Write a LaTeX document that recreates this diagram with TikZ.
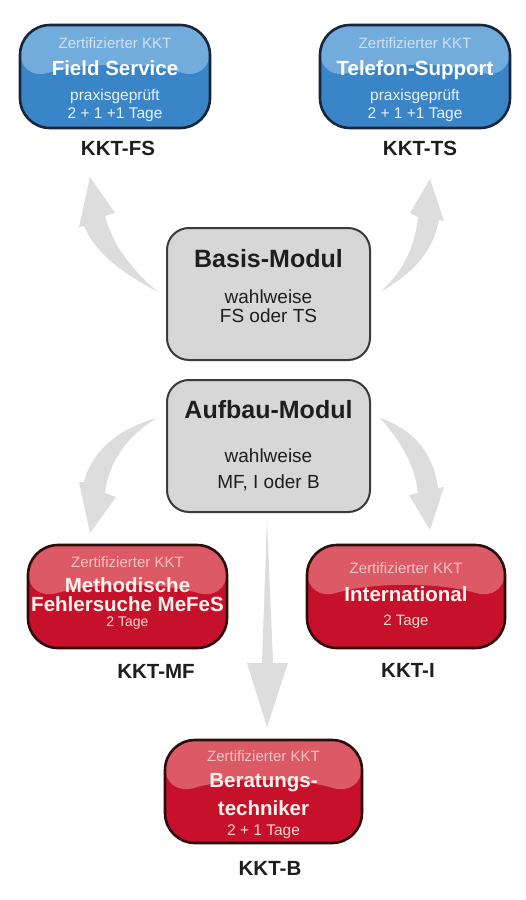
\documentclass[tikz,border=0pt]{standalone}
\usepackage{fontspec}
\setmainfont{Liberation Sans}
\usetikzlibrary{calc}
\definecolor{bluelo}{HTML}{3A84C8}
\definecolor{bluehi}{HTML}{72ACDD}
\definecolor{blueline}{HTML}{18263A}
\definecolor{redlo}{HTML}{C7112B}
\definecolor{redhi}{HTML}{DB5A66}
\definecolor{redline}{HTML}{2C0C0C}
\definecolor{greyfill}{HTML}{D7D7D7}
\definecolor{greyline}{HTML}{3A3A3A}
\definecolor{arrowgrey}{HTML}{DDDDDD}
\definecolor{labeldark}{HTML}{1E1E1E}
\definecolor{bluecert}{HTML}{D0E2F3}
\definecolor{bluesub}{HTML}{EAF2FA}
\definecolor{redcert}{HTML}{F6C4C4}
\definecolor{redtitle}{HTML}{FFF4EC}
\definecolor{redsub}{HTML}{F9D8D0}
\begin{document}
\begin{tikzpicture}[x=1pt,y=-1pt,
  gloss/.style={path picture={
    \coordinate (gnw) at (path picture bounding box.north west);
    \coordinate (gne) at (path picture bounding box.north east);
    \coordinate (gsw) at (path picture bounding box.south west);
    \coordinate (gse) at (path picture bounding box.south east);
    \coordinate (gl) at ($(gnw)!0.55!(gsw)$);
    \coordinate (gr) at ($(gne)!0.55!(gse)$);
    \coordinate (gl2) at ($(gnw)!0.36!(gsw)$);
    \coordinate (gr2) at ($(gne)!0.36!(gse)$);
    \fill[#1] (gnw) -- (gl) .. controls ($(gl2)!0.33!(gr2)$) and ($(gl2)!0.67!(gr2)$) .. (gr) -- (gne) -- cycle;}},
  certbox/.style={draw, line width=2.6pt, rounded corners=30pt, inner sep=0pt},
  bluebox/.style={certbox, draw=blueline, fill=bluelo, gloss=bluehi},
  redbox/.style={certbox, draw=redline, fill=redlo, gloss=redhi},
  modbox/.style={draw=greyline, fill=greyfill, line width=2pt, rounded corners=22pt, inner sep=0pt,
    minimum width=203pt, minimum height=132pt},
  txt/.style={anchor=base, inner sep=0pt},
  certf/.style={txt, font=\fontsize{15}{16}\selectfont},
  titlef/.style={txt, font=\fontsize{20.5}{21}\selectfont\bfseries},
  subf/.style={txt, font=\fontsize{15.5}{16}\selectfont},
  labelf/.style={txt, font=\fontsize{20.5}{21}\selectfont\bfseries, text=labeldark},
  modtitle/.style={txt, font=\fontsize{25}{26}\selectfont\bfseries, text=labeldark},
  modtext/.style={txt, font=\fontsize{19}{20}\selectfont, text=labeldark},
  arrowfill/.style={fill=arrowgrey}
]
\useasboundingbox (0,0) rectangle (526,900);
\fill[white] (0,0) rectangle (526,900);

% ---------- arrows ----------
\coordinate (a1t) at (158,292); \coordinate (a1h) at (90,177);
\fill[arrowfill] (a1t) .. controls (120,272) and (95,252) .. (84,226) -- (79,227) -- (a1h)
  -- (115,213) -- (105,216) .. controls (113,245) and (130,268) .. (a1t) -- cycle;
\coordinate (a2t) at (380,292); \coordinate (a2h) at (430,179);
\fill[arrowfill] (a2t) .. controls (405,270) and (415,245) .. (418,217) -- (410,213) -- (a2h)
  -- (444,221) -- (439,220) .. controls (432,255) and (410,275) .. (a2t) -- cycle;
\coordinate (a3t) at (157,418); \coordinate (a3h) at (90,533);
\fill[arrowfill] (a3t) .. controls (120,428) and (92,450) .. (84,482) -- (79,482) -- (a3h)
  -- (116,497) -- (105,493) .. controls (108,465) and (125,437) .. (a3t) -- cycle;
\coordinate (a4t) at (380,418); \coordinate (a4h) at (430,530);
\fill[arrowfill] (a4t) .. controls (410,428) and (433,450) .. (438,488) -- (444,487) -- (a4h)
  -- (409,495) -- (418,493) .. controls (415,465) and (400,440) .. (a4t) -- cycle;
\coordinate (a5t) at (267,520); \coordinate (a5h) at (267,727);
\fill[arrowfill] (a5t) -- (273,663) -- (288,663) -- (a5h) -- (247,663) -- (262,663) -- cycle;

% ---------- blue boxes ----------
\node[bluebox, minimum width=190pt, minimum height=103pt] (fs) at (115,76.5) {};
\node[certf, text=bluecert] (fs1) at (115,48) {Zertifizierter KKT};
\node[titlef, text=white] (fs2) at (115,75) {Field Service};
\node[subf, text=bluesub] (fs3) at (115,100) {praxisgeprüft};
\node[subf, text=bluesub] (fs4) at (115,118) {2 + 1 +1 Tage};
\node[labelf] (fsl) at (118,155) {KKT-FS};

\node[bluebox, minimum width=190pt, minimum height=103pt] (ts) at (415,76.5) {};
\node[certf, text=bluecert] (ts1) at (415,48) {Zertifizierter KKT};
\node[titlef, text=white] (ts2) at (415,75) {Telefon-Support};
\node[subf, text=bluesub] (ts3) at (415,100) {praxisgeprüft};
\node[subf, text=bluesub] (ts4) at (415,118) {2 + 1 +1 Tage};
\node[labelf] (tsl) at (420,155) {KKT-TS};

% ---------- grey modules ----------
\node[modbox] (basis) at (268.5,294) {};
\node[modtitle] (b1) at (268.5,267) {Basis-Modul};
\node[modtext] (b2) at (268.5,303) {wahlweise};
\node[modtext] (b3) at (268.5,322) {FS oder TS};

\node[modbox] (aufbau) at (268.5,446) {};
\node[modtitle] (u1) at (268.5,418) {Aufbau-Modul};
\node[modtext] (u2) at (268.5,462) {wahlweise};
\node[modtext] (u3) at (268.5,488) {MF, I oder B};

% ---------- red boxes ----------
\node[redbox, minimum width=199pt, minimum height=103pt] (mf) at (127.5,596.5) {};
\node[certf, text=redcert] (mf1) at (127.5,567) {Zertifizierter KKT};
\node[titlef, text=redtitle] (mf2) at (127.5,592) {Methodische};
\node[titlef, text=redtitle] (mf3) at (127.5,611) {Fehlersuche MeFeS};
\node[txt, font=\fontsize{14}{15}\selectfont, text=redsub] (mf4) at (127.5,626) {2 Tage};
\node[labelf] (mfl) at (156,678) {KKT-MF};

\node[redbox, minimum width=198pt, minimum height=103pt] (int) at (406,596.5) {};
\node[certf, text=redcert] (int1) at (406,573) {Zertifizierter KKT};
\node[titlef, text=redtitle] (int2) at (406,601) {International};
\node[txt, font=\fontsize{15}{16}\selectfont, text=redsub] (int3) at (406,625) {2 Tage};
\node[labelf] (intl) at (408,677) {KKT-I};

\node[redbox, minimum width=197pt, minimum height=103pt] (ber) at (263.5,791.5) {};
\node[certf, text=redcert] (ber1) at (263.5,761) {Zertifizierter KKT};
\node[titlef, text=redtitle] (ber2) at (263.5,787) {Beratungs-};
\node[titlef, text=redtitle] (ber3) at (263.5,815) {techniker};
\node[txt, font=\fontsize{15.5}{16}\selectfont, text=redsub] (ber4) at (263.5,835) {2 + 1 Tage};
\node[labelf] (berl) at (270,875) {KKT-B};
\end{tikzpicture}
\end{document}
